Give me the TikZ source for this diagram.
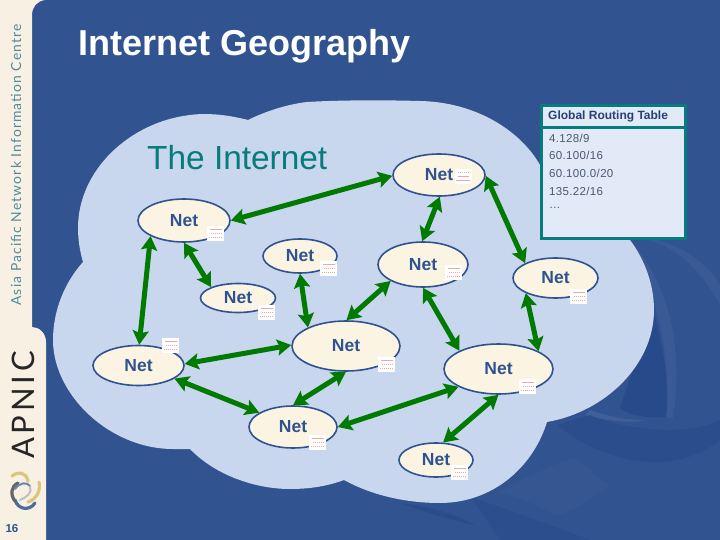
\documentclass[tikz,border=0pt]{standalone}
\usepackage{fontspec}
\setmainfont{Liberation Sans}
\newfontfamily\sidefont[LetterSpace=8]{Lato}
\newfontfamily\apnicfont[LetterSpace=12]{Lato}
\newfontfamily\tablefont[LetterSpace=3]{Liberation Sans}
\usetikzlibrary{arrows.meta,shapes.geometric}
\definecolor{bgblue}{HTML}{31538F}
\definecolor{bgdark}{HTML}{274A8A}
\definecolor{bglight}{HTML}{4A689E}
\definecolor{cloudc}{HTML}{C8D6EE}
\definecolor{creamc}{HTML}{FBF4E2}
\definecolor{sidec}{HTML}{F8F0E2}
\definecolor{netblue}{HTML}{2F5290}
\definecolor{tealc}{HTML}{067C7C}
\definecolor{greenc}{HTML}{007A00}
\definecolor{panelc}{HTML}{E2E9F7}
\definecolor{listc}{HTML}{4A5A70}
\definecolor{redc}{HTML}{EBA8A8}
\definecolor{sidetextc}{HTML}{4F8CA0}
\definecolor{goldc}{HTML}{DCC67E}
\tikzset{
  net/.style={ellipse,draw=netblue,fill=creamc,line width=1.6pt,inner sep=0pt,text=netblue,
    font=\fontsize{17.5}{18}\selectfont\bfseries},
  link/.style={greenc,line width=5pt,
    {Stealth[length=14pt,width=16pt,inset=2.5pt]}-{Stealth[length=14pt,width=16pt,inset=2.5pt]}},
  sticker/.style={rectangle,fill=white,draw=none,minimum width=17pt,minimum height=15pt,inner sep=0pt,
    path picture={
      \draw[redc,line width=.8pt,dash pattern=on 1.6pt off .4pt]
        ([shift={(3pt,-3.5pt)}]path picture bounding box.north west) -- ([shift={(-2pt,-3.5pt)}]path picture bounding box.north east)
        ([shift={(3.5pt,-7.5pt)}]path picture bounding box.north west) -- ([shift={(-3pt,-7.5pt)}]path picture bounding box.north east)
        ([shift={(1.5pt,-11.5pt)}]path picture bounding box.north west) -- ([shift={(-1.5pt,-11.5pt)}]path picture bounding box.north east);
    }},
  listtext/.style={anchor=west,text=listc,inner sep=0pt,font=\tablefont\fontsize{11.5}{12}\selectfont},
  swirl/.style={line width=3.2pt,line cap=round}
}
\begin{document}
\begin{tikzpicture}[x=1pt,y=-1pt]
\useasboundingbox (0,0) rectangle (720,540);
% background
\fill[bgblue] (0,0) rectangle (720,540);
% swooshes
\fill[bgdark] (653,310) .. controls (665,350) and (670,395) .. (666,417) .. controls (650,418) and (632,417) .. (620,408) -- cycle;
\fill[bglight,opacity=.35] (630,240) .. controls (665,280) and (685,340) .. (673,418) -- (666,417) .. controls (672,350) and (655,285) .. (625,240) -- cycle;
\fill[bglight,opacity=.35] (650,238) .. controls (680,245) and (705,260) .. (720,285) -- (720,305) .. controls (700,270) and (680,250) .. (650,240) -- cycle;
\fill[bglight,opacity=.6] (590,410) .. controls (610,417) and (625,420) .. (645,420) .. controls (625,424) and (605,420) .. (585,415) -- cycle;
\fill[bgdark,opacity=.6] (557,425) .. controls (600,460) and (670,480) .. (720,440) -- (720,420) .. controls (680,440) and (610,425) .. (590,415) -- cycle;
\fill[bglight,opacity=.18] (500,492) .. controls (520,480) and (540,470) .. (575,458) .. controls (590,470) and (600,480) .. (610,485) .. controls (590,500) and (575,510) .. (555,516) .. controls (540,505) and (520,498) .. (500,492) -- cycle;
\fill[bgdark,opacity=.7] (400,503) .. controls (430,507) and (450,512) .. (475,525) .. controls (450,520) and (425,512) .. (400,503) -- cycle;
\fill[bgdark,opacity=.45] (470,497) .. controls (510,510) and (550,525) .. (590,540) -- (500,540) .. controls (490,525) and (480,510) .. (470,497) -- cycle;
% cloud
\fill[cloudc] (248,120) .. controls (225,114) and (205,113) .. (190,115)
  .. controls (130,122) and (78,170) .. (78,228) .. controls (78,240) and (80,252) .. (83,262)
  .. controls (65,282) and (53,310) .. (53,340) .. controls (53,395) and (110,449) .. (173,449) -- (190,449)
  .. controls (215,475) and (255,489) .. (290,489) .. controls (310,489) and (328,486) .. (344,480)
  .. controls (375,497) and (410,503) .. (440,503) .. controls (490,503) and (532,470) .. (547,422)
  .. controls (605,412) and (654,365) .. (654,310) .. controls (654,285) and (645,260) .. (630,240)
  .. controls (610,210) and (575,185) .. (540,165) .. controls (520,130) and (475,102) .. (420,101)
  .. controls (385,100) and (340,100) .. (307,102) .. controls (290,104) and (268,110) .. (248,120) -- cycle;
% sidebar
\fill[sidec] (0,0) -- (45,0) .. controls (37,1) and (32,7) .. (32,15) -- (32,327) .. controls (39,327) and (46,333) .. (46,342) -- (46,540) -- (0,540) -- cycle;
\node[rotate=90,text=sidetextc,font=\sidefont\fontsize{13.9}{15}\selectfont,inner sep=0pt] (sidetext) at (16,165) {Asia Pacific Network Information Centre};
\node[rotate=90,text=black!85,font=\apnicfont\fontsize{31}{32}\selectfont,inner sep=0pt] (apnic) at (23,405) {APNIC};
% logo
\draw[swirl,color=goldc] (12,476) .. controls (18,471) and (26,472) .. (28,481);
\draw[swirl,color=goldc] (39,482) .. controls (41,490) and (37,499) .. (28,502);
\draw[swirl,color=netblue!85!white] (15,500) .. controls (18,510) and (30,511) .. (35,503);
\draw[swirl,color=black!60] (18,483) .. controls (11,486) and (10,495) .. (15,501);
\draw[line width=2pt,line cap=round,color=netblue!70!white] (15,489) .. controls (20,482) and (27,482) .. (30,486);
\draw[line width=2pt,line cap=round,color=black!25] (20,500) .. controls (26,498) and (33,492) .. (30,487);
\node[text=netblue,font=\fontsize{11.5}{12}\selectfont\bfseries,inner sep=0pt] (pagenum) at (12,529) {16};
% titles
\node[anchor=west,text=white,font=\fontsize{36}{38}\selectfont\bfseries,inner sep=0pt] (title) at (78,46) {Internet Geography};
\node[anchor=west,text=tealc,font=\fontsize{33.4}{35}\selectfont,inner sep=0pt] (internet) at (147,158) {The Internet};
% routing table
\node[rectangle,draw=tealc,fill=panelc,line width=3.5pt,minimum width=144pt,minimum height=133pt,inner sep=0pt] (table) at (613.5,172) {};
\coordinate (hl) at (541,127.5);
\coordinate (hr) at (686,127.5);
\draw[tealc,line width=3.2pt] (hl) -- (hr);
\node[anchor=west,text=netblue!80!black,inner sep=0pt,font=\fontsize{12}{13}\selectfont\bfseries] (tablehead) at (548,116) {Global Routing Table};
\node[listtext] (r1) at (549,138.5) {4.128/9};
\node[listtext] (r2) at (549,155.5) {60.100/16};
\node[listtext] (r3) at (549,173) {60.100.0/20};
\node[listtext] (r4) at (549,191) {135.22/16};
\node[listtext] (r5) at (549,208) {\dots};
% nets
\node[net,minimum width=92pt,minimum height=42pt] (n1) at (439,175) {Net};
\node[net,minimum width=92pt,minimum height=43pt] (n2) at (184,220.5) {Net};
\node[net,minimum width=74pt,minimum height=34pt] (n3) at (300,256) {Net};
\node[net,minimum width=90pt,minimum height=45pt] (n4) at (423,264.5) {Net};
\node[net,minimum width=85pt,minimum height=40pt] (n5) at (555.5,278) {Net};
\node[net,minimum width=75pt,minimum height=29pt] (n6) at (238,298) {Net};
\node[net,minimum width=108pt,minimum height=50pt] (n7) at (346,346) {Net};
\node[net,minimum width=91pt,minimum height=40pt] (n8) at (138.5,365.5) {Net};
\node[net,minimum width=109pt,minimum height=50pt] (n9) at (498.5,369) {Net};
\node[net,minimum width=88pt,minimum height=42pt] (n10) at (293,427) {Net};
\node[net,minimum width=74pt,minimum height=34pt] (n11) at (436,460) {Net};
% stickers
\node[sticker] (s1) at (463,176.5) {};
\node[sticker] (s2) at (215.5,233.5) {};
\node[sticker] (s3) at (328.5,268) {};
\node[sticker] (s4) at (453.5,272.5) {};
\node[sticker] (s5) at (578.5,296) {};
\node[sticker] (s6) at (266.5,312.5) {};
\node[sticker] (s7) at (386.5,364) {};
\node[sticker] (s8) at (170.5,345.5) {};
\node[sticker] (s9) at (527.5,386.5) {};
\node[sticker] (s10) at (317.5,442.5) {};
\node[sticker] (s11) at (459.5,472) {};
% links
\draw[link] (n1.181) -- (n2.0);
\draw[link] (n1.272) -- (n4.92);
\draw[link] (n1.359) -- (n5.154);
\draw[link] (n2.205) -- (n8.88);
\draw[link] (n2.270) -- (n6.158);
\draw[link] (n3.270) -- (n7.154);
\draw[link] (n8.2) -- (n7.179);
\draw[link] (n8.340) -- (n10.157);
\draw[link] (n10.90) -- (n7.270);
\draw[link] (n7.89) -- (n4.207);
\draw[link] (n4.270) -- (n9.155);
\draw[link] (n5.207) -- (n9.24);
\draw[link] (n10.0) -- (n9.204);
\draw[link] (n9.270) -- (n11.68);
\end{tikzpicture}
\end{document}
